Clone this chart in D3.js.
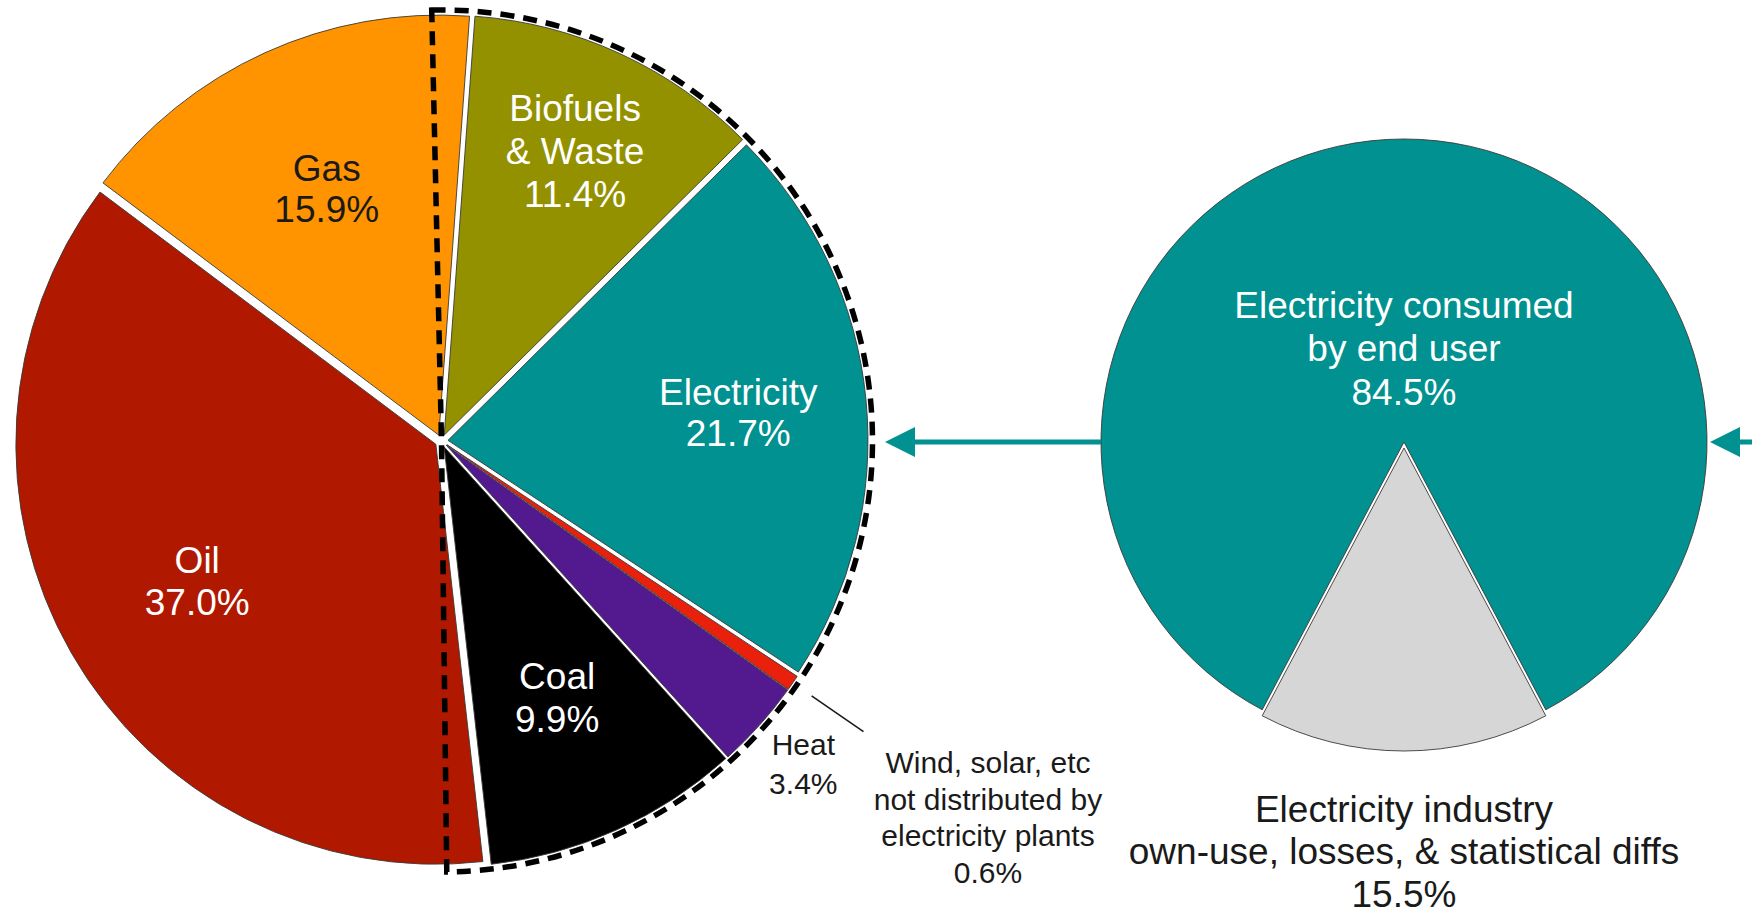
<!DOCTYPE html>
<html>
<head>
<meta charset="utf-8">
<script src="https://cdn.jsdelivr.net/npm/d3@7"></script>
<style>
  body { margin: 0; background: #fff; }
  svg { display: block; }
  text { font-family: "Liberation Sans", Arial, Helvetica, sans-serif; }
</style>
</head>
<body>
<div id="vis"></div>
<script>
// final energy consumption by source (left pie)
let sources = ["Biofuels & Waste", "Electricity", "Wind, solar, etc", "Heat", "Coal", "Oil", "Gas"];
let shares = [11.4, 21.7, 0.6, 3.4, 9.9, 37.0, 15.9];
let sourceLines = [
  ["Biofuels", "& Waste"],
  ["Electricity"],
  ["Wind, solar, etc", "not distributed by", "electricity plants"],
  ["Heat"],
  ["Coal"],
  ["Oil"],
  ["Gas"]
];

// what happens to the electricity (right pie)
let elecParts = ["Consumed", "Industry"];
let elecShares = [84.5, 15.5];
let elecLines = [
  ["Electricity consumed", "by end user"],
  ["Electricity industry", "own-use, losses, & statistical diffs"]
];

let width = 1752,
    height = 914;

let svg = d3.select('#vis')
  .append('svg')
  .attr('width', width)
  .attr('height', height)
  .attr('viewBox', [0, 0, width, height].join(' '));

let pct = d => d3.format(".1f")(d) + "%";

// colors
let color1 = d3.scaleOrdinal()
  .domain(sources)
  .range(['#939100', '#009190', '#e8200c', '#53198f', '#000000', '#b01800', '#ff9300']);
let color2 = d3.scaleOrdinal()
  .domain(elecParts)
  .range(['#009190', '#d6d6d6']);

// label settings (radius as fraction of pie radius, along slice bisector)
let labelStyle = {
  "Biofuels & Waste": { r: 0.76, fill: "#fff", size: 37, lh: 43 },
  "Electricity": { r: 0.71, fill: "#fff", size: 37, lh: 41 },
  "Wind, solar, etc": { r: 1.58, fill: "#1a1a1a", size: 30, lh: 36.5 },
  "Heat": { r: 1.155, fill: "#1a1a1a", size: 30, lh: 39 },
  "Coal": { r: 0.67, fill: "#fff", size: 37, lh: 43 },
  "Oil": { r: 0.67, fill: "#fff", size: 37, lh: 42 },
  "Gas": { r: 0.66, fill: "#1a1a1a", size: 37, lh: 41 },
  "Consumed": { r: 0.32, fill: "#fff", size: 37, lh: 43.5 },
  "Industry": { r: 1.34, fill: "#1a1a1a", size: 37, lh: 42.5 }
};

const deg = Math.PI / 180;

//helper to draw an exploded pie with labels
function drawPie(g, data, names, lines, color, R, off, start) {
  let pie = d3.pie()
    .sort(null)
    .value(d => d)
    .startAngle(start)
    .endAngle(start + 2 * Math.PI);
  let arcs = pie(data);
  let arc = d3.arc().innerRadius(0).outerRadius(R);

  g.selectAll("path.slice")
    .data(arcs)
    .enter()
    .append("path")
      .attr("class", "slice")
      .attr("d", arc)
      .attr("transform", function(d) {
        let m = (d.startAngle + d.endAngle) / 2;
        return "translate(" + (Math.sin(m) * off) + "," + (-Math.cos(m) * off) + ")";
      })
      .attr("fill", (d, i) => color(names[i]))
      .attr("stroke", "#3a3a3a")
      .attr("stroke-width", 0.9);

  arcs.forEach(function(d, i) {
    let st = labelStyle[names[i]];
    let m = (d.startAngle + d.endAngle) / 2;
    let x = Math.sin(m) * R * st.r,
        y = -Math.cos(m) * R * st.r;
    let txt = lines[i].concat([pct(data[i])]);
    let t = g.append("text")
      .attr("text-anchor", "middle")
      .attr("fill", st.fill)
      .style("font-size", st.size + "px");
    txt.forEach(function(s, k) {
      t.append("tspan")
        .attr("x", x)
        .attr("y", y - (txt.length - 1) * st.lh / 2 + k * st.lh + 0.36 * st.size)
        .text(s);
    });
  });
  return arcs;
}

//Add left pie
let cx1 = 441.5, cy1 = 441, R1 = 420;
let g1 = svg.append("g").attr("transform", "translate(" + cx1 + "," + cy1 + ")");
let arcs1 = drawPie(g1, shares, sources, sourceLines, color1, R1, 6.5, 4.2 * deg);

// leader line for the tiny wind/solar slice
let w = arcs1[2];
let wm = (w.startAngle + w.endAngle) / 2;
g1.append("line")
  .attr("x1", Math.sin(wm) * R1 * 1.07)
  .attr("y1", -Math.cos(wm) * R1 * 1.07)
  .attr("x2", Math.sin(wm) * R1 * 1.22)
  .attr("y2", -Math.cos(wm) * R1 * 1.22)
  .attr("stroke", "#1a1a1a")
  .attr("stroke-width", 1.6);

// dashed outline around the right half
g1.append("path")
  .attr("d", d3.arc().innerRadius(0).outerRadius(R1 + 11)({ startAngle: -1.3 * deg, endAngle: 179.3 * deg }))
  .attr("fill", "none")
  .attr("stroke", "#000")
  .attr("stroke-width", 5.5)
  .attr("stroke-dasharray", "14 9");

//Add right pie
let cx2 = 1404, cy2 = 445, R2 = 303;
let g2 = svg.append("g").attr("transform", "translate(" + cx2 + "," + cy2 + ")");
let start2 = Math.PI + elecShares[1] / 100 * Math.PI;
drawPie(g2, elecShares, elecParts, elecLines, color2, R2, 3, start2);

//Add arrows
let ay = cy2 - 3;
let teal = color1("Electricity");
function arrow(x1, tipX) {
  svg.append("line")
    .attr("x1", x1).attr("y1", ay)
    .attr("x2", tipX + 25).attr("y2", ay)
    .attr("stroke", teal)
    .attr("stroke-width", 5);
  svg.append("path")
    .attr("d", "M" + tipX + "," + ay + "L" + (tipX + 30) + "," + (ay - 15) + "L" + (tipX + 30) + "," + (ay + 15) + "Z")
    .attr("fill", teal);
}
arrow(cx2 - R2, cx1 + R1 + 6.5 + 17);
arrow(width, cx2 + R2 + 3);
</script>
</body>
</html>
